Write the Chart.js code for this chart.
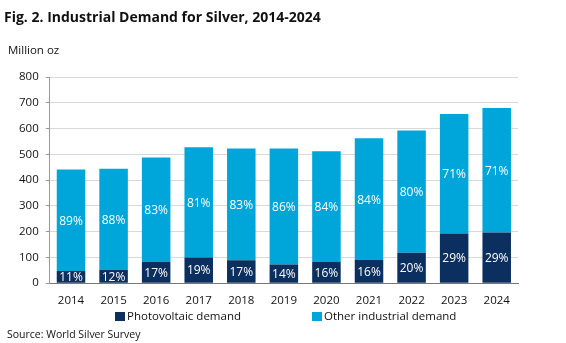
<!DOCTYPE html>
<html>
<head>
<meta charset="utf-8">
<script src="https://cdn.jsdelivr.net/npm/chart.js@4/dist/chart.umd.min.js"></script>
<style>
  html, body { margin: 0; padding: 0; background: #fff; }
  #wrap { position: relative; width: 566px; height: 343px; font-family: "Open Sans", sans-serif; color: #111; }
  #chart { position: absolute; left: 0; top: 0; }
  .title { position: absolute; left: 4px; top: 7px; font-size: 14px; font-weight: 700; white-space: nowrap; }
  .unit { position: absolute; left: 8px; top: 42px; font-size: 11.5px; }
  .source { position: absolute; left: 7px; top: 327px; font-size: 10.5px; white-space: nowrap; }
  .legend { position: absolute; top: 308px; font-size: 11.5px; white-space: nowrap; line-height: 16px; }
  .legend i { display: inline-block; width: 10px; height: 9px; margin-right: 2px; vertical-align: -1px; }
</style>
</head>
<body>
<div id="wrap">
  <canvas id="chart" width="566" height="343"></canvas>
  <div class="title">Fig. 2. Industrial Demand for Silver, 2014-2024</div>
  <div class="unit">Million oz</div>
  <div class="legend" id="legend"></div>
  <div class="source">Source: World Silver Survey</div>
</div>
<script>
const years = ["2014", "2015", "2016", "2017", "2018", "2019", "2020", "2021", "2022", "2023", "2024"];
const photovoltaic = [47, 52, 83, 100, 89, 73, 82, 90, 118, 193, 197];
const otherIndustrial = [394, 392, 405, 427, 434, 450, 430, 472, 474, 463, 483];
const yTicks = [0, 100, 200, 300, 400, 500, 600, 700, 800];

const DARK = "#0b2f5e";
const LIGHT = "#00a6d9";
const FONT = '"Open Sans", sans-serif';

// share of each segment in the year's total, written in the middle of the segment
const shareLabels = {
  id: "shareLabels",
  afterDatasetsDraw(chart) {
    const ctx = chart.ctx;
    ctx.save();
    ctx.fillStyle = "#fff";
    ctx.font = "12px " + FONT;
    ctx.textAlign = "center";
    ctx.textBaseline = "middle";
    chart.data.datasets.forEach((ds, di) => {
      chart.getDatasetMeta(di).data.forEach((bar, i) => {
        const total = photovoltaic[i] + otherIndustrial[i];
        const pct = Math.round(ds.data[i] / total * 100) + "%";
        const mid = (bar.y + bar.base) / 2;
        ctx.fillText(pct, bar.x, mid + 1);
      });
    });
    ctx.restore();
  }
};

const chart = new Chart(document.getElementById("chart"), {
  type: "bar",
  data: {
    labels: years,
    datasets: [
      { label: "Photovoltaic demand", data: photovoltaic, backgroundColor: DARK },
      { label: "Other industrial demand", data: otherIndustrial, backgroundColor: LIGHT }
    ]
  },
  options: {
    responsive: false,
    animation: false,
    layout: { padding: { left: 12, right: 48, top: 77, bottom: 32 } },
    datasets: { bar: { barPercentage: 0.67, categoryPercentage: 1 } },
    plugins: {
      tooltip: { enabled: false },
      legend: { display: false }
    },
    scales: {
      x: {
        stacked: true,
        grid: { display: false },
        border: { color: "#777" },
        ticks: { color: "#111", padding: 3, font: { family: FONT, size: 11.5 } }
      },
      y: {
        stacked: true,
        min: 0, max: 800,
        afterBuildTicks: axis => { axis.ticks = yTicks.map(v => ({ value: v })); },
        grid: { color: "#d9d9d9", tickLength: 4, tickColor: "#999" },
        border: { color: "#999" },
        ticks: { color: "#111", padding: 7, font: { family: FONT, size: 11.5 } }
      }
    }
  },
  plugins: [shareLabels]
});

// legend row under the axis, swatches taken from the datasets
const legendPos = [115, 312];
document.getElementById("legend").outerHTML = chart.data.datasets.map((ds, i) =>
  `<div class="legend" style="left:${legendPos[i]}px"><i style="background:${ds.backgroundColor}"></i>${ds.label}</div>`
).join("");
</script>
</body>
</html>
